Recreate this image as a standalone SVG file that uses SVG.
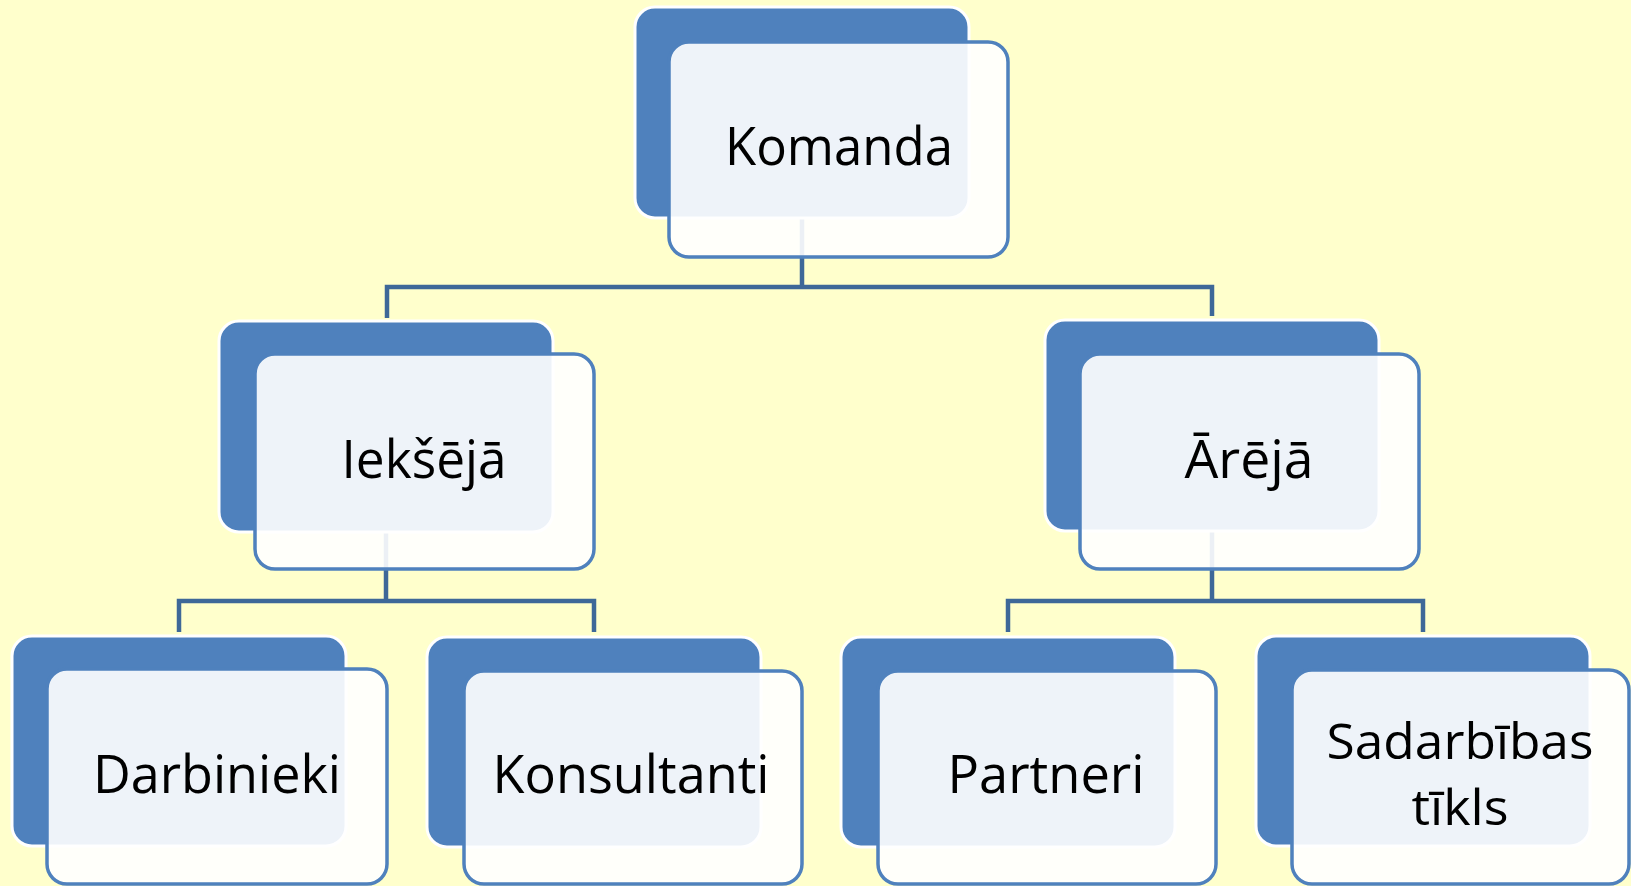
<svg xmlns="http://www.w3.org/2000/svg" width="1631" height="886" viewBox="0 0 1631 886">
<style>
.bg{fill:#ffffcc}
.back{fill:#4f81bd;stroke:#ffffff;stroke-width:3}
.front{fill:#ffffff;fill-opacity:0.9;stroke:#4f81bd;stroke-width:3.5}
.lbl{font-family:"Open Sans","Noto Sans","DejaVu Sans",sans-serif;font-size:53px;fill:#000000;text-anchor:middle}
.sm{font-size:49px}
.conn{fill:none;stroke:#3e6898;stroke-width:4.5}
</style>
<rect class="bg" x="0" y="0" width="1631" height="886"/>
<g id="connectors">
<path class="conn" d="M802,120 V287 M387,318 V287 H1212 V316"/>
<path class="conn" d="M386,430 V601 M179,632 V601 H594 V632"/>
<path class="conn" d="M1212,430 V601 M1008,632 V601 H1423 V632"/>
</g>
<g id="komanda">
<rect class="back" x="635" y="7" width="334" height="211" rx="20"/>
<rect class="front" x="669" y="42" width="339" height="215" rx="20"/>
<text class="lbl" x="839" y="165" textLength="228" lengthAdjust="spacingAndGlyphs">Komanda</text>
</g>
<g id="ieksejaa">
<rect class="back" x="219" y="321" width="334" height="211" rx="20"/>
<rect class="front" x="255" y="354" width="339" height="215" rx="20"/>
<text class="lbl" x="424" y="478" textLength="165" lengthAdjust="spacingAndGlyphs">Iekšējā</text>
</g>
<g id="areja">
<rect class="back" x="1045" y="320" width="334" height="211" rx="20"/>
<rect class="front" x="1080" y="354" width="339" height="215" rx="20"/>
<text class="lbl" x="1249" y="478" textLength="129" lengthAdjust="spacingAndGlyphs">Ārējā</text>
</g>
<g id="darbinieki">
<rect class="back" x="12" y="636" width="334" height="210" rx="20"/>
<rect class="front" x="47" y="669" width="340" height="215" rx="20"/>
<text class="lbl" x="217" y="793" textLength="248" lengthAdjust="spacingAndGlyphs">Darbinieki</text>
</g>
<g id="konsultanti">
<rect class="back" x="427" y="637" width="334" height="210" rx="20"/>
<rect class="front" x="464" y="671" width="338" height="213" rx="20"/>
<text class="lbl" x="631" y="793" textLength="277" lengthAdjust="spacingAndGlyphs">Konsultanti</text>
</g>
<g id="partneri">
<rect class="back" x="841" y="637" width="334" height="210" rx="20"/>
<rect class="front" x="878" y="671" width="338" height="213" rx="20"/>
<text class="lbl" x="1046" y="793" textLength="197" lengthAdjust="spacingAndGlyphs">Partneri</text>
</g>
<g id="sadarbibas">
<rect class="back" x="1256" y="636" width="334" height="210" rx="20"/>
<rect class="front" x="1292" y="670" width="337" height="214" rx="20"/>
<text class="lbl sm" x="1460" y="759" textLength="267" lengthAdjust="spacingAndGlyphs">Sadarbības</text>
<text class="lbl sm" x="1460" y="825" textLength="97" lengthAdjust="spacingAndGlyphs">tīkls</text>
</g>
</svg>
